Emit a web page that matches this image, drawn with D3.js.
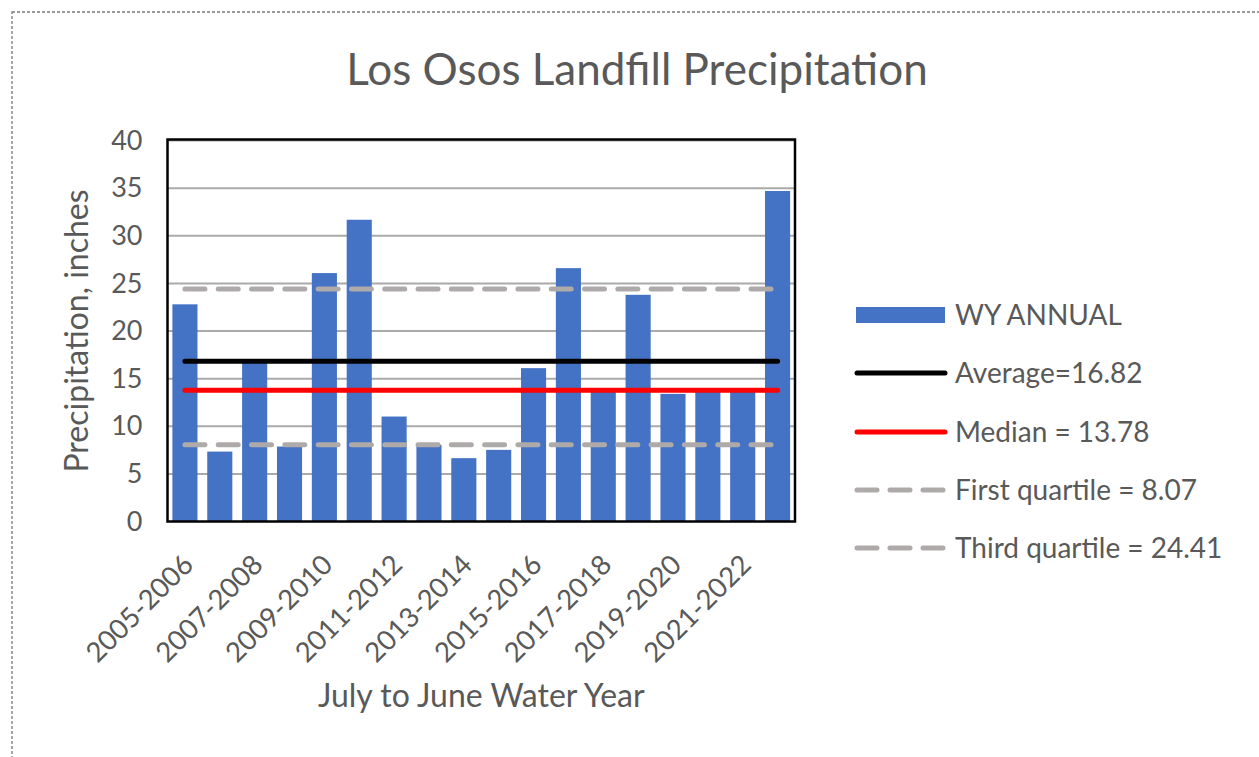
<!DOCTYPE html>
<html>
<head>
<meta charset="utf-8">
<script src="https://cdn.jsdelivr.net/npm/d3@7"></script>
<style>
  body { margin: 0; background: #fff; }
  svg { display: block; font-family: Lato, "Open Sans", sans-serif; }
</style>
</head>
<body>
<div id="chart"></div>
<script>
// water years (July to June)
const seasons = [
  "2005-2006", "2006-2007", "2007-2008", "2008-2009", "2009-2010", "2010-2011",
  "2011-2012", "2012-2013", "2013-2014", "2014-2015", "2015-2016", "2016-2017",
  "2017-2018", "2018-2019", "2019-2020", "2020-2021", "2021-2022", "2022-2023"
];
// WY ANNUAL precipitation, inches
const annual = [
  22.8, 7.34, 16.7, 7.87, 26.08, 31.68, 11.02, 8.05, 6.65, 7.52, 16.1, 26.6,
  13.6, 23.8, 13.4, 13.7, 13.86, 34.7
];
const statNames = ["Average=16.82", "Median = 13.78", "First quartile = 8.07", "Third quartile = 24.41"];
const statValues = [16.82, 13.78, 8.07, 24.41];
const yTicks = [0, 5, 10, 15, 20, 25, 30, 35, 40];
const xTickLabels = seasons.filter((d, i) => i % 2 === 0);

const W = 1259, H = 757;
const plot = { left: 167.5, top: 140.5, right: 795, bottom: 521.5 };
const textColor = "#595959";
const statStyles = [
  { color: "#000000", dash: null },
  { color: "#ff0000", dash: null },
  { color: "#aeaaaa", dash: "20,13.3" },
  { color: "#aeaaaa", dash: "20,13.3" }
];

const svg = d3.select("#chart").append("svg")
  .attr("width", W)
  .attr("height", H);

// dashed outer frame
svg.append("rect")
  .attr("x", 12).attr("y", 12)
  .attr("width", W).attr("height", H)
  .attr("fill", "none")
  .attr("stroke", "#7a7a7a")
  .attr("stroke-width", 1.3)
  .attr("stroke-dasharray", "3,2");

const x = d3.scaleBand()
  .domain(seasons)
  .range([plot.left, plot.right])
  .paddingInner(0.28)
  .paddingOuter(0.14);

const y = d3.scaleLinear()
  .domain([0, 40])
  .range([plot.bottom, plot.top]);

// gridlines
svg.append("g")
  .selectAll("line")
  .data(yTicks.slice(1))
  .join("line")
  .attr("x1", plot.left).attr("x2", plot.right)
  .attr("y1", d => y(d)).attr("y2", d => y(d))
  .attr("stroke", "#aaaaaa")
  .attr("stroke-width", 2);

// bars
svg.append("g")
  .selectAll("rect")
  .data(annual)
  .join("rect")
  .attr("x", (d, i) => x(seasons[i]))
  .attr("y", d => y(d))
  .attr("width", x.bandwidth())
  .attr("height", d => y(0) - y(d))
  .attr("fill", "#4472c4");

// stat lines from first to last category centre
const cx0 = x(seasons[0]) + x.bandwidth() / 2;
const cx1 = x(seasons[seasons.length - 1]) + x.bandwidth() / 2;
svg.append("g")
  .selectAll("line")
  .data(statValues)
  .join("line")
  .attr("x1", cx0).attr("x2", cx1)
  .attr("y1", d => y(d)).attr("y2", d => y(d))
  .attr("stroke", (d, i) => statStyles[i].color)
  .attr("stroke-width", 5)
  .attr("stroke-linecap", "round")
  .attr("stroke-dasharray", (d, i) => statStyles[i].dash);

// plot frame
svg.append("rect")
  .attr("x", plot.left).attr("y", plot.top - 1)
  .attr("width", plot.right - plot.left)
  .attr("height", plot.bottom - plot.top + 1)
  .attr("fill", "none")
  .attr("stroke", "#000")
  .attr("stroke-width", 2.5);

// y axis
const yAxis = svg.append("g")
  .attr("transform", `translate(${plot.left - 25},0)`)
  .call(d3.axisLeft(y).tickValues(yTicks).tickSize(0).tickPadding(0));
yAxis.select(".domain").remove();
yAxis.selectAll("text")
  .attr("fill", textColor)
  .attr("font-size", 27)
  .attr("font-family", "Lato");

// x axis labels, every other year
const xAxis = svg.append("g")
  .attr("transform", `translate(0,${plot.bottom})`)
  .call(d3.axisBottom(x).tickValues(xTickLabels).tickSize(0).tickFormat(d => d));
xAxis.select(".domain").remove();
xAxis.selectAll("text")
  .attr("fill", textColor)
  .attr("font-size", 27.5)
  .attr("font-family", "Lato")
  .attr("text-anchor", "end")
  .attr("dy", null)
  .attr("y", 0)
  .attr("transform", "translate(10,45) rotate(-45)");

// titles
svg.append("text")
  .attr("x", 637).attr("y", 85)
  .attr("text-anchor", "middle")
  .attr("fill", textColor)
  .attr("font-size", 44)
  .text("Los Osos Landfill Precipitation");

svg.append("text")
  .attr("x", (plot.left + plot.right) / 2).attr("y", 707)
  .attr("text-anchor", "middle")
  .attr("fill", textColor)
  .attr("font-size", 32)
  .text("July to June Water Year");

svg.append("text")
  .attr("transform", `translate(88,${(plot.top + plot.bottom) / 2}) rotate(-90)`)
  .attr("text-anchor", "middle")
  .attr("fill", textColor)
  .attr("font-size", 32)
  .text("Precipitation, inches");

// legend
const legend = svg.append("g");
const legendY = [315, 373, 432, 490, 548];
legend.append("rect")
  .attr("x", 856).attr("y", legendY[0] - 8)
  .attr("width", 89).attr("height", 16)
  .attr("fill", "#4472c4");
legend.append("text")
  .attr("x", 955).attr("y", legendY[0])
  .attr("dy", "0.36em")
  .attr("fill", textColor)
  .attr("font-size", 28)
  .text("WY ANNUAL");

const items = legend.selectAll("g.item")
  .data(statNames)
  .join("g")
  .attr("class", "item")
  .attr("transform", (d, i) => `translate(0,${legendY[i + 1]})`);
items.append("line")
  .attr("x1", 857).attr("x2", 945)
  .attr("stroke", (d, i) => statStyles[i].color)
  .attr("stroke-width", 5)
  .attr("stroke-linecap", "round")
  .attr("stroke-dasharray", (d, i) => statStyles[i].dash ? "20,13" : null);
items.append("text")
  .attr("x", 955)
  .attr("dy", "0.36em")
  .attr("fill", textColor)
  .attr("font-size", 28)
  .text(d => d);
</script>
</body>
</html>
